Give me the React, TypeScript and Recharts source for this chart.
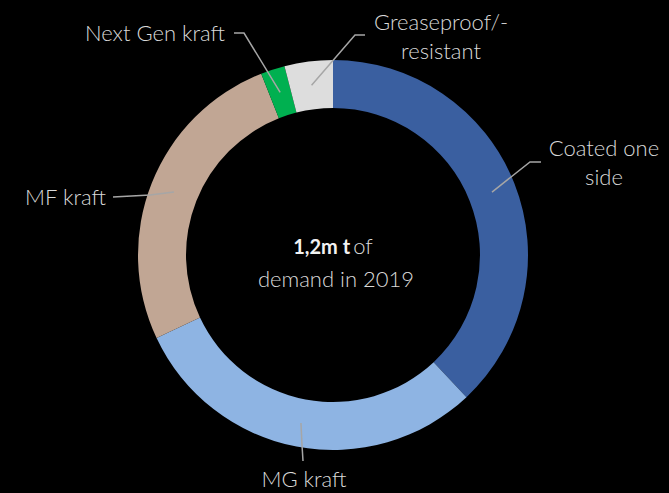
import React from "react";
import { PieChart, Pie, Cell } from "recharts";

const categories = ["Coated one side", "MG kraft", "MF kraft", "Next Gen kraft", "Greaseproof/-resistant"];
const shares = [38, 30, 26, 2, 4];
const labelLines = [["Coated one", "side"], ["MG kraft"], ["MF kraft"], ["Next Gen kraft"], ["Greaseproof/-", "resistant"]];
const centerBold = "1,2m t";
const centerRest = "of";
const centerLine2 = "demand in 2019";

const colors = ["#3A5FA0", "#8EB4E3", "#C1A694", "#00B050", "#DDDDDD"];

// label layout: elbow, end of line, text position (offsets from centre), anchor
const labelLayout = [
  { elbow: [197, -93], end: [208, -93], text: [271, -107], anchor: "middle" },
  { elbow: [-31, 190], end: [-30, 206], text: [-29, 224], anchor: "middle" },
  { elbow: [-183, -60], end: [-220, -58], text: [-227, -58], anchor: "end" },
  { elbow: [-89, -222], end: [-99, -222], text: [-108, -222], anchor: "end" },
  { elbow: [22, -220], end: [32, -220], text: [108, -233], anchor: "middle" },
];

const data = categories.map((name, i) => ({ name, value: shares[i] }));

const RAD = Math.PI / 180;
const FONT = "Lato, 'Open Sans', sans-serif";
const TXT = "#D9D9D9";

const renderLabel = (props: any) => {
  const { cx, cy, midAngle, innerRadius, outerRadius, index } = props;
  const r = (innerRadius + outerRadius) / 2;
  const ax = cx + r * Math.cos(-midAngle * RAD);
  const ay = cy + r * Math.sin(-midAngle * RAD);
  const l = labelLayout[index];
  const pts = `${ax},${ay} ${cx + l.elbow[0]},${cy + l.elbow[1]} ${cx + l.end[0]},${cy + l.end[1]}`;
  const lines = labelLines[index];
  const tx = cx + l.text[0];
  const ty = cy + l.text[1];
  return (
    <g key={`lbl-${index}`}>
      <polyline points={pts} fill="none" stroke="#A6A6A6" strokeWidth={1.5} />
      <text x={tx} y={ty} textAnchor={l.anchor} fill={TXT} style={{ fill: TXT }} fontFamily={FONT} fontWeight={300} fontSize={22}>
        {lines.map((t, i) => (
          <tspan key={i} x={tx} dy={i === 0 ? "0.35em" : 29}>
            {t}
          </tspan>
        ))}
      </text>
      {index === 0 ? (
        <g>
          <text x={cx} y={cy} dy="-0.05em" textAnchor="middle" fontFamily={FONT} fontSize={21}>
            <tspan style={{ fill: "#F2F2F2" }} fontWeight="bold" fontSize={20}>{centerBold}</tspan>
            <tspan style={{ fill: TXT }} fontWeight={300} fontSize={22} dx={3}>{centerRest}</tspan>
          </text>
          <text x={cx + 3} y={cy + 32} textAnchor="middle" style={{ fill: TXT }} fontFamily={FONT} fontWeight={300} fontSize={22}>
            {centerLine2}
          </text>
        </g>
      ) : null}
    </g>
  );
};

export default function App() {
  return (
    <div style={{ position: "absolute", left: 0, top: 0, width: 669, height: 493, background: "#000" }}>
      <PieChart width={669} height={493} margin={{ top: 0, right: 0, bottom: 0, left: 0 }}>
        <Pie
          data={data}
          dataKey="value"
          nameKey="name"
          cx={333}
          cy={255}
          innerRadius={147}
          outerRadius={195}
          startAngle={90}
          endAngle={-270}
          stroke="none"
          isAnimationActive={false}
          label={renderLabel}
          labelLine={false}
        >
          {data.map((d, i) => (
            <Cell key={d.name} fill={colors[i]} />
          ))}
        </Pie>
      </PieChart>
    </div>
  );
}
